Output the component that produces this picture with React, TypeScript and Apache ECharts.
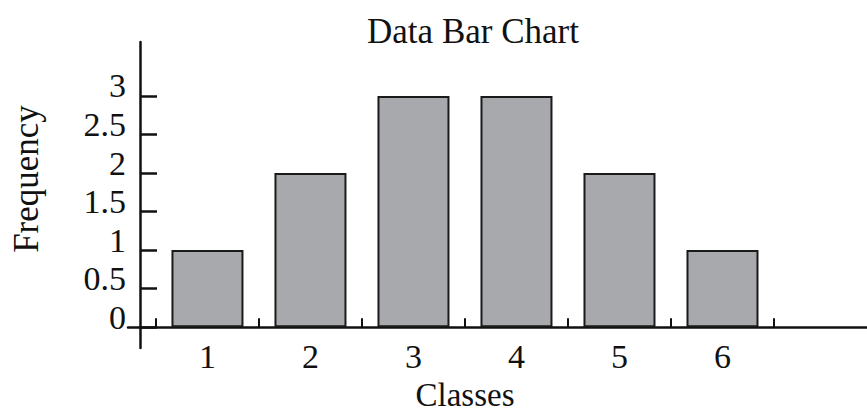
import React, { useEffect, useRef } from "react";
import * as echarts from "echarts";

const categories = ["1", "2", "3", "4", "5", "6"];
const frequencies = [1, 2, 3, 3, 2, 1];
const yTickValues = [0, 0.5, 1, 1.5, 2, 2.5, 3];
const yTickLabels = ["0", "0.5", "1", "1.5", "2", "2.5", "3"];
const xTickBoundaries = [0.5, 1.5, 2.5, 3.5, 4.5, 5.5, 6.5];
const chartTitle = "Data Bar Chart";
const xAxisTitle = "Classes";
const yAxisTitle = "Frequency";

const FONT = "'Liberation Serif', 'Times New Roman', serif";

export default function App() {
  const ref = useRef<HTMLDivElement>(null);

  useEffect(() => {
    if (!ref.current) return;
    const chart = echarts.init(ref.current, undefined, { renderer: "svg" });
    const positions = categories.map((_, i) => i + 1);
    const yMin = -0.27;
    const yMax = 3.7;
    const option: any = {
      animation: false,
      backgroundColor: "#ffffff",
      grid: [
        { left: 140, right: 0, top: 42, bottom: 64, containLabel: false },
        { left: 128, width: 12, top: 42, bottom: 64, containLabel: false },
      ],
      xAxis: [
        {
          type: "value",
          gridIndex: 0,
          min: 0.345,
          max: 7.403,
          splitLine: { show: false },
          axisLine: { show: true, onZero: true, lineStyle: { color: "#111", width: 2.5 } },
          axisTick: {
            show: true,
            inside: true,
            length: 9,
            customValues: xTickBoundaries,
            lineStyle: { color: "#111", width: 2 },
          },
          axisLabel: {
            show: true,
            customValues: positions,
            formatter: (v: number) => categories[Math.round(v) - 1] ?? "",
            margin: -9,
            fontFamily: FONT,
            fontSize: 34,
            color: "#111",
          },
        },
        {
          type: "value",
          gridIndex: 1,
          min: 0,
          max: 1,
          splitLine: { show: false },
          axisLine: { show: true, onZero: true, lineStyle: { color: "#111", width: 2.5 } },
          axisTick: { show: false },
          axisLabel: { show: false },
        },
      ],
      yAxis: [
        {
          type: "value",
          gridIndex: 0,
          min: yMin,
          max: yMax,
          splitLine: { show: false },
          axisLine: { show: true, onZero: false, lineStyle: { color: "#111", width: 2.5 } },
          axisTick: {
            show: true,
            inside: true,
            length: 17,
            customValues: yTickValues,
            lineStyle: { color: "#111", width: 2.5 },
          },
          axisLabel: {
            show: true,
            customValues: yTickValues,
            formatter: (v: number) => {
              const idx = yTickValues.findIndex((t) => Math.abs(t - v) < 1e-6);
              return idx >= 0 ? yTickLabels[idx] : "";
            },
            margin: 14,
            fontFamily: FONT,
            fontSize: 34,
            color: "#111",
            verticalAlign: "bottom",
            lineHeight: 20,
          },
        },
        {
          type: "value",
          gridIndex: 1,
          min: yMin,
          max: yMax,
          show: false,
        },
      ],
      series: [
        {
          type: "bar",
          xAxisIndex: 0,
          yAxisIndex: 0,
          barWidth: 72,
          data: positions.map((p, i) => [p, frequencies[i]]),
          itemStyle: { color: "#a8a9ac", borderColor: "#1a1a1a", borderWidth: 2 },
          z: 1,
        },
      ],
      graphic: [
        {
          type: "text",
          x: 473,
          y: 31,
          style: {
            text: chartTitle,
            fontFamily: FONT,
            fontSize: 35,
            fill: "#111",
            align: "center",
            verticalAlign: "middle",
          },
        },
        {
          type: "text",
          x: 465,
          y: 395,
          style: {
            text: xAxisTitle,
            fontFamily: FONT,
            fontSize: 33,
            fill: "#111",
            align: "center",
            verticalAlign: "middle",
          },
        },
        {
          type: "text",
          x: 26,
          y: 179,
          rotation: Math.PI / 2,
          style: {
            text: yAxisTitle,
            fontFamily: FONT,
            fontSize: 35,
            fill: "#111",
            align: "center",
            verticalAlign: "middle",
          },
        },
      ],
    };
    chart.setOption(option);
    return () => chart.dispose();
  }, []);

  return (
    <div
      ref={ref}
      style={{ position: "fixed", left: 0, top: 0, width: 867, height: 412 }}
    />
  );
}
